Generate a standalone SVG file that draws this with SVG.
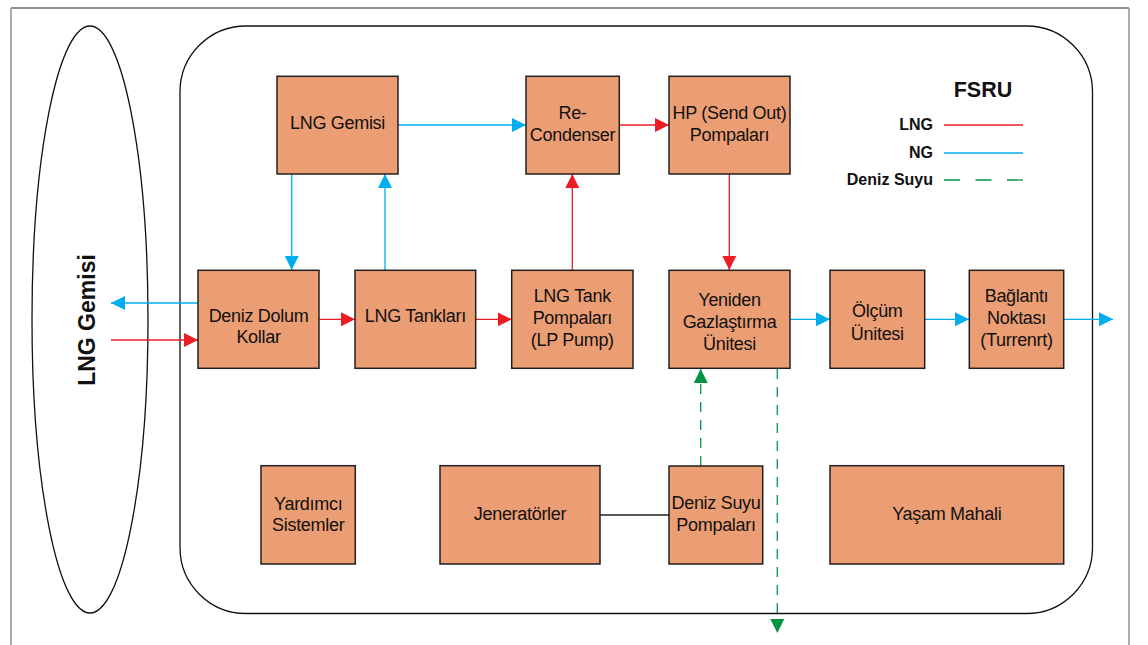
<svg xmlns="http://www.w3.org/2000/svg" width="1148" height="645" viewBox="0 0 1148 645">
<style>
.box{fill:#EB9D74;stroke:#231F20;stroke-width:1.5}
.t{font-family:"Liberation Sans",Arial,sans-serif;font-size:18px;letter-spacing:-0.3px;fill:#111;text-anchor:middle}
.lg{font-family:"Liberation Sans",Arial,sans-serif;font-size:16px;font-weight:bold;fill:#111;text-anchor:end}
.red{stroke:#ED1C24;stroke-width:1.3;fill:none}
.blue{stroke:#00AEEF;stroke-width:1.3;fill:none}
.green{stroke:#009444;stroke-width:1.3;fill:none;stroke-dasharray:10 8}
</style>
<defs>
<marker id="ar" markerUnits="userSpaceOnUse" markerWidth="14" markerHeight="14" refX="14" refY="7" orient="auto"><path d="M0,0 L14,7 L0,14 Z" fill="#ED1C24"/></marker>
<marker id="ab" markerUnits="userSpaceOnUse" markerWidth="14" markerHeight="14" refX="14" refY="7" orient="auto"><path d="M0,0 L14,7 L0,14 Z" fill="#00AEEF"/></marker>
<marker id="ag" markerUnits="userSpaceOnUse" markerWidth="14" markerHeight="14" refX="14" refY="7" orient="auto"><path d="M0,0 L14,7 L0,14 Z" fill="#009444"/></marker>
</defs>
<rect width="1148" height="645" fill="#fff"/>
<g id="frame">
<line x1="11" y1="8" x2="1129" y2="8" stroke="#222" stroke-width="1.2"/>
<line x1="11" y1="8" x2="11" y2="645" stroke="#888" stroke-width="1.4"/>
<line x1="1129" y1="8" x2="1129" y2="645" stroke="#888" stroke-width="1.4"/>
</g>
<g id="ship">
<ellipse cx="90" cy="319.5" rx="58" ry="293.5" fill="none" stroke="#111" stroke-width="1.3"/>
<text transform="translate(95,320) rotate(-90)" font-family="Liberation Sans,Arial,sans-serif" font-size="23" font-weight="bold" fill="#111" text-anchor="middle">LNG Gemisi</text>
</g>
<g id="fsru">
<rect x="180" y="26" width="912.5" height="587.5" rx="66" ry="66" fill="none" stroke="#111" stroke-width="1.3"/>
</g>
<g id="legend">
<text x="983" y="97" font-family="Liberation Sans,Arial,sans-serif" font-size="21.5" font-weight="bold" fill="#111" text-anchor="middle">FSRU</text>
<text class="lg" x="933" y="130">LNG</text>
<text class="lg" x="933" y="158">NG</text>
<text class="lg" x="933" y="185">Deniz Suyu</text>
<line x1="944" y1="125" x2="1023" y2="125" stroke="#ED1C24" stroke-width="1.3"/>
<line x1="944" y1="153" x2="1023" y2="153" stroke="#00AEEF" stroke-width="1.3"/>
<line x1="944" y1="180" x2="1023" y2="180" stroke="#009444" stroke-width="1.3" stroke-dasharray="16 15.5"/>
</g>
<g id="connectors">
<line class="blue" x1="398" y1="125" x2="526" y2="125" marker-end="url(#ab)"/>
<line class="red" x1="619" y1="125" x2="669" y2="125" marker-end="url(#ar)"/>
<line class="blue" x1="291.7" y1="174" x2="291.7" y2="270" marker-end="url(#ab)"/>
<line class="blue" x1="385" y1="270" x2="385" y2="174" marker-end="url(#ab)"/>
<line class="red" x1="572.3" y1="270" x2="572.3" y2="174" marker-end="url(#ar)"/>
<line class="red" x1="729.3" y1="174" x2="729.3" y2="270" marker-end="url(#ar)"/>
<line class="blue" x1="198" y1="303" x2="111" y2="303" marker-end="url(#ab)"/>
<line class="red" x1="111" y1="340" x2="198" y2="340" marker-end="url(#ar)"/>
<line class="red" x1="319" y1="319.3" x2="355" y2="319.3" marker-end="url(#ar)"/>
<line class="red" x1="475.7" y1="319.3" x2="511.7" y2="319.3" marker-end="url(#ar)"/>
<line class="blue" x1="790" y1="319.3" x2="830" y2="319.3" marker-end="url(#ab)"/>
<line class="blue" x1="925" y1="319.3" x2="969" y2="319.3" marker-end="url(#ab)"/>
<line class="blue" x1="1064" y1="319.3" x2="1113" y2="319.3" marker-end="url(#ab)"/>
<line class="green" x1="700.7" y1="466" x2="700.7" y2="369" marker-end="url(#ag)"/>
<line class="green" x1="777.3" y1="369" x2="777.3" y2="633" marker-end="url(#ag)"/>
<line x1="600" y1="515" x2="669" y2="515" stroke="#231F20" stroke-width="1.3"/>
</g>
<g id="lng-gemisi-top">
<rect class="box" x="277" y="76.3" width="121" height="97.7"/>
<text class="t" x="337.5" y="129">LNG Gemisi</text>
</g>
<g id="re-condenser">
<rect class="box" x="526" y="76.3" width="93.3" height="97.7"/>
<text class="t" x="572.5" y="119">Re-</text>
<text class="t" x="572.5" y="140.7">Condenser</text>
</g>
<g id="hp-pompalari">
<rect class="box" x="669" y="76.3" width="121" height="97.7"/>
<text class="t" x="729.5" y="119" letter-spacing="-0.6">HP (Send Out)</text>
<text class="t" x="729.5" y="140.7">Pompaları</text>
</g>
<g id="deniz-dolum">
<rect class="box" x="198" y="270.3" width="121" height="98"/>
<text class="t" x="258.5" y="321.7">Deniz Dolum</text>
<text class="t" x="258.5" y="343.3">Kollar</text>
</g>
<g id="lng-tanklari">
<rect class="box" x="355" y="270.3" width="120.7" height="98"/>
<text class="t" x="415.3" y="322">LNG Tankları</text>
</g>
<g id="lng-tank-pompalari">
<rect class="box" x="511.7" y="270.3" width="121.3" height="98"/>
<text class="t" x="572.3" y="302">LNG Tank</text>
<text class="t" x="572.3" y="324.3">Pompaları</text>
<text class="t" x="572.3" y="346">(LP Pump)</text>
</g>
<g id="yeniden-gazlastirma">
<rect class="box" x="669" y="270.3" width="121" height="98"/>
<text class="t" x="729.5" y="306">Yeniden</text>
<text class="t" x="729.5" y="328">Gazlaştırma</text>
<text class="t" x="729.5" y="350">Ünitesi</text>
</g>
<g id="olcum">
<rect class="box" x="830" y="270.3" width="94.7" height="98"/>
<text class="t" x="877.3" y="317">Ölçüm</text>
<text class="t" x="877.3" y="339.5">Ünitesi</text>
</g>
<g id="baglanti">
<rect class="box" x="969.3" y="270.3" width="94.4" height="98"/>
<text class="t" x="1016.5" y="302">Bağlantı</text>
<text class="t" x="1016.5" y="324.3">Noktası</text>
<text class="t" x="1016.5" y="346">(Turrenrt)</text>
</g>
<g id="yardimci">
<rect class="box" x="261" y="465.7" width="94.3" height="98.3"/>
<text class="t" x="308.2" y="510">Yardımcı</text>
<text class="t" x="308.2" y="531">Sistemler</text>
</g>
<g id="jeneratorler">
<rect class="box" x="440" y="465.7" width="160" height="98.3"/>
<text class="t" x="520" y="520">Jeneratörler</text>
</g>
<g id="deniz-suyu-pompalari">
<rect class="box" x="669" y="466" width="93.7" height="98"/>
<text class="t" x="716" y="509" letter-spacing="-0.5">Deniz Suyu</text>
<text class="t" x="716" y="530.7">Pompaları</text>
</g>
<g id="yasam-mahali">
<rect class="box" x="830" y="465.7" width="233.7" height="98.3"/>
<text class="t" x="946.8" y="520">Yaşam Mahali</text>
</g>
</svg>
